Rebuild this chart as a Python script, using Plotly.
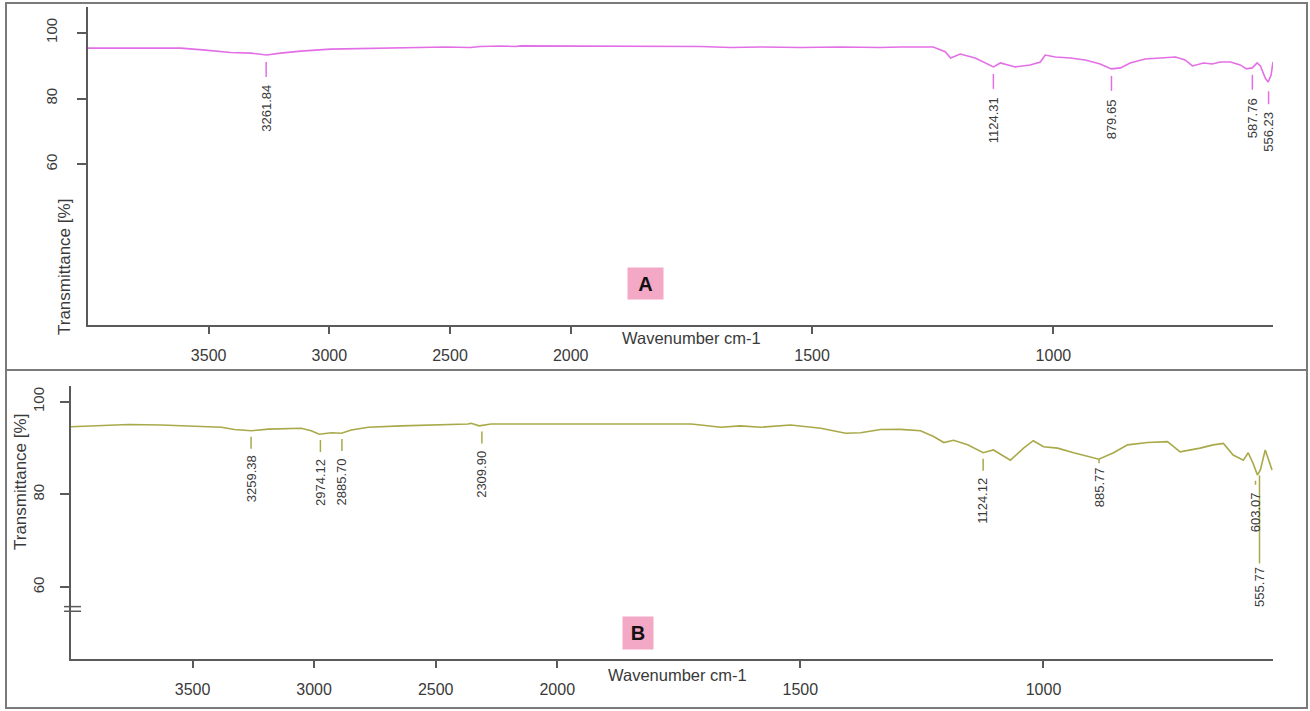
import numpy as np
import plotly.graph_objects as go

# ---------------- data ----------------
# Panel A spectrum (wavenumber cm-1, transmittance %)
a_wn = [4000, 3740, 3616, 3513, 3409, 3326, 3260, 3202, 3119, 2995, 2829, 2622, 2519,
        2415, 2374, 2291, 2229, 2208, 2001, 1938, 1855, 1731, 1669, 1607, 1524, 1441,
        1358, 1317, 1249, 1224, 1213, 1193, 1162, 1124, 1110, 1079, 1048, 1027, 1017,
        996, 965, 934, 903, 880, 861, 841, 810, 778, 747, 727, 712, 689, 671, 654,
        633, 613, 600, 588, 578, 571, 561, 555, 549, 545]
a_t = [95.3, 95.3, 95.3, 94.7, 94.0, 93.8, 93.2, 93.8, 94.4, 95.0, 95.3, 95.5, 95.65,
       95.5, 95.8, 95.95, 95.8, 96.0, 95.95, 95.95, 95.95, 95.8, 95.5, 95.65, 95.5, 95.65,
       95.5, 95.65, 95.65, 94.2, 92.3, 93.5, 92.3, 89.6, 90.8, 89.6, 90.2, 91.1, 93.2,
       92.6, 92.3, 91.7, 90.5, 89.0, 89.3, 90.8, 92.0, 92.3, 92.6, 91.7, 89.9, 90.8, 90.5, 91.1,
       91.1, 90.2, 89.0, 89.3, 90.8, 89.9, 86.2, 85.0, 87.1, 91.1]

# Panel B spectrum
b_wn = [4000, 3763, 3628, 3463, 3381, 3328, 3258, 3188, 3053, 3012, 2979, 2929, 2888,
        2847, 2777, 2642, 2477, 2367, 2354, 2321, 2272, 2001, 1909, 1807, 1725, 1705,
        1664, 1623, 1581, 1520, 1458, 1407, 1376, 1335, 1294, 1253, 1226, 1205, 1185,
        1156, 1124, 1103, 1068, 1041, 1021, 1000, 971, 938, 886, 856, 827, 786, 745,
        719, 678, 651, 630, 610, 589, 579, 569, 560, 554, 544, 538, 530]
b_t = [94.6, 95.1, 95.0, 94.6, 94.5, 94.0, 93.75, 94.1, 94.3, 93.75, 93.0, 93.3, 93.2,
       93.9, 94.5, 94.8, 95.0, 95.2, 95.35, 94.8, 95.2, 95.2, 95.2, 95.2, 95.2, 95.0,
       94.5, 94.8, 94.5, 95.0, 94.3, 93.2, 93.3, 94.0, 94.05, 93.75, 92.5, 91.2, 91.7,
       90.7, 89.0, 89.6, 87.4, 90.0, 91.6, 90.3, 90.0, 89.0, 87.6, 89.0, 90.7, 91.2, 91.4,
       89.2, 90.0, 90.7, 91.0, 88.5, 87.4, 89.0, 86.7, 84.2, 85.3, 89.6, 87.8, 85.3]

a_peaks = [3261.84, 1124.31, 879.65, 587.76, 556.23]
a_peak_labels = ["3261.84", "1124.31", "879.65", "587.76", "556.23"]
b_peaks = [3259.38, 2974.12, 2885.70, 2309.90, 1124.12, 885.77, 603.07, 555.77]
b_peak_labels = ["3259.38", "2974.12", "2885.70", "2309.90", "1124.12", "885.77", "603.07", "555.77"]

x_ticks = [3500, 3000, 2500, 2000, 1500, 1000]
x_tick_labels = ["3500", "3000", "2500", "2000", "1500", "1000"]
y_ticks = [60, 80, 100]
y_tick_labels = ["60", "80", "100"]

# ---------------- styling ----------------
W, H = 1310, 711
FONT = "Liberation Sans, Arial, sans-serif"
COL_A = "#e36fe6"
COL_B = "#a9a94a"
AXC = "#5a5a5a"
TXT = "#3a3a3a"


def ax_u(w):
    """Spectrometer-style axis: scale doubles below 2000 cm-1."""
    w = np.asarray(w, dtype=float)
    return np.where(w >= 2000, w, 2 * w - 2000)


def px(x):
    return x / W


def py(y):
    return 1 - y / H


fig = go.Figure()
fig.add_trace(go.Scatter(x=ax_u(a_wn), y=a_t, mode="lines", line=dict(color=COL_A, width=1.6),
                         xaxis="x", yaxis="y", showlegend=False, hoverinfo="skip"))
fig.add_trace(go.Scatter(x=ax_u(b_wn), y=b_t, mode="lines", line=dict(color=COL_B, width=1.6),
                         xaxis="x2", yaxis="y2", showlegend=False, hoverinfo="skip"))

common_x = dict(showgrid=False, zeroline=False, showline=True, linecolor=AXC, linewidth=2,
                ticks="outside", ticklen=7, tickwidth=1.5, tickcolor=AXC,
                tickvals=list(ax_u(x_ticks)), ticktext=x_tick_labels,
                tickfont=dict(family=FONT, size=16, color=TXT), ticklabelstandoff=8)
common_y = dict(showgrid=False, zeroline=False, showline=True, linecolor=AXC, linewidth=2,
                ticks="outside", ticklen=9, tickwidth=1.5, tickcolor=AXC,
                tickvals=y_ticks, ticktext=y_tick_labels, tickangle=-90,
                tickfont=dict(family=FONT, size=15, color=TXT))

fig.update_layout(
    width=W, height=H, margin=dict(l=0, r=0, t=0, b=0),
    paper_bgcolor="white", plot_bgcolor="white",
    xaxis=dict(domain=[px(88), px(1273)], range=[float(ax_u(4000)), float(ax_u(545))],
               anchor="y", **common_x),
    yaxis=dict(domain=[py(325), py(7)], range=[11.2, 107.8], anchor="x",
               ticklabelstandoff=14, **common_y),
    xaxis2=dict(domain=[px(71), px(1273)], range=[float(ax_u(4000)), float(ax_u(528))],
                anchor="y2", **common_x),
    yaxis2=dict(domain=[py(659), py(386)], range=[44.5, 103.4], anchor="x2",
                ticklabelstandoff=10, **common_y),
)

shapes = []
annots = []

# panel frames
shapes.append(dict(type="rect", xref="paper", yref="paper", x0=px(6), x1=px(1307),
                   y0=py(370), y1=py(3), line=dict(color="#7a7a7a", width=2)))
shapes.append(dict(type="rect", xref="paper", yref="paper", x0=px(6), x1=px(1307),
                   y0=py(708), y1=py(370), line=dict(color="#7a7a7a", width=2)))

# y-axis break mark on B
for yb in (55.8, 54.8):
    shapes.append(dict(type="line", xref="paper", yref="y2", x0=px(64), x1=px(81),
                       y0=yb, y1=yb, line=dict(color=AXC, width=1.5)))


def add_peaks(peaks, labels, wn, tt, xr, yr, col, gap, tlen, tgap, extra=None):
    order = np.argsort(wn)
    wn_s = np.asarray(wn)[order]
    t_s = np.asarray(tt)[order]
    for p, lab in zip(peaks, labels):
        yc = float(np.interp(p, wn_s, t_s))
        xs = 0
        g, L, tg = gap, tlen, tgap
        if extra and lab in extra:
            xs, g, L, tg = extra[lab]
        xu = float(ax_u(p))
        shapes.append(dict(type="line", xref=xr, yref=yr, xsizemode="pixel", xanchor=xu,
                           x0=xs, x1=xs, ysizemode="pixel", yanchor=yc,
                           y0=-g, y1=-(g + L), line=dict(color=col, width=1.5)))
        annots.append(dict(x=xu, y=yc, xref=xr, yref=yr, text=lab, showarrow=False,
                           textangle=-90, xanchor="center", yanchor="top",
                           xshift=xs, yshift=-(g + L + tg),
                           font=dict(family=FONT, size=13, color=TXT)))


add_peaks(a_peaks, a_peak_labels, a_wn, a_t, "x", "y", COL_A, 7, 15, 6,
          extra={"556.23": (1, 10, 13, 6)})
add_peaks(b_peaks, b_peak_labels, b_wn, b_t, "x2", "y2", COL_B, 6, 12, 5,
          extra={"885.77": (0, 0, 4, 2),
                 "603.07": (19, 24, 4, 6),
                 "555.77": (0, 4, 88, 2)})


def paper_text(x, y, text, size, angle=0, **kw):
    annots.append(dict(x=px(x), y=py(y), xref="paper", yref="paper", text=text,
                       showarrow=False, textangle=angle, xanchor="center", yanchor="middle",
                       font=dict(family=FONT, size=size, color=kw.pop("color", TXT)), **kw))


# axis titles
paper_text(64, 267, "Transmittance [%]", 17, angle=-90)
paper_text(20, 482, "Transmittance [%]", 17, angle=-90)
paper_text(691, 338, "Wavenumber cm-1", 16.5)
paper_text(677, 675, "Wavenumber cm-1", 16.5)

# panel letters
paper_text(645, 283, "<b>A</b>", 20, color="#111111", bgcolor="#f3a8c6", width=33, height=29)
paper_text(638, 633, "<b>B</b>", 20, color="#111111", bgcolor="#f3a8c6", width=28, height=30)

fig.update_layout(shapes=shapes, annotations=annots)
fig.write_html("out.html")
